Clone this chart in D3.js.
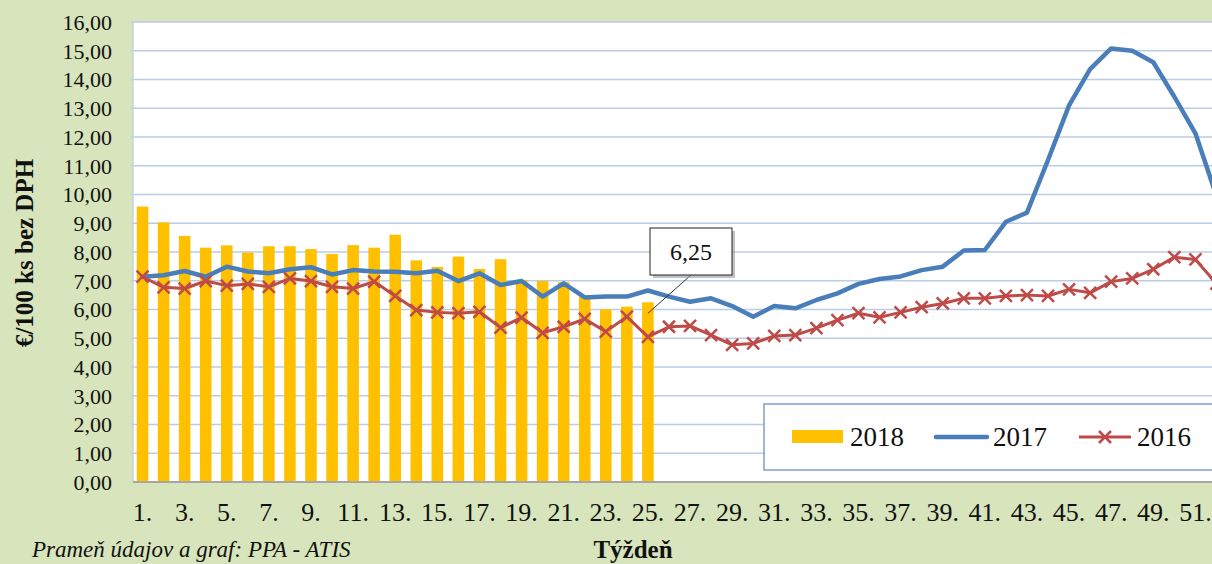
<!DOCTYPE html>
<html>
<head>
<meta charset="utf-8">
<script src="https://cdn.jsdelivr.net/npm/d3@7"></script>
<style>
  body { margin: 0; overflow: hidden; background: #d8e4bc; }
  svg { display: block; }
  svg text { font-family: "Liberation Serif", "Times New Roman", serif; }
</style>
</head>
<body>
<div id="chart"></div>
<script>
// weeks 1..52
const weeks = d3.range(1, 53);
const tickWeeks = weeks.filter(w => w % 2 === 1);
const yTicks = d3.range(0, 17);

const v2018 = [9.58, 9.03, 8.56, 8.15, 8.23, 7.98, 8.20, 8.20, 8.10, 7.93, 8.24, 8.15, 8.60,
  7.71, 7.48, 7.84, 7.41, 7.75, 7.03, 6.99, 6.95, 6.45, 6.01, 6.10, 6.25];

const v2017 = [7.14, 7.19, 7.34, 7.14, 7.49, 7.32, 7.26, 7.40, 7.47, 7.22, 7.37, 7.32, 7.31,
  7.26, 7.35, 6.99, 7.26, 6.85, 6.99, 6.45, 6.91, 6.42, 6.45, 6.45, 6.66, 6.45,
  6.27, 6.39, 6.12, 5.75, 6.12, 6.04, 6.33, 6.56, 6.89, 7.06, 7.15, 7.37, 7.49,
  8.05, 8.07, 9.05, 9.37, 11.2, 13.1, 14.36, 15.08, 15.0, 14.6, 13.4, 12.13, 9.95];

const v2016 = [7.14, 6.77, 6.73, 6.99, 6.83, 6.89, 6.79, 7.08, 6.99, 6.79, 6.73, 6.97, 6.47,
  5.98, 5.90, 5.87, 5.92, 5.37, 5.72, 5.19, 5.40, 5.67, 5.23, 5.75, 5.05, 5.40,
  5.43, 5.11, 4.77, 4.82, 5.08, 5.11, 5.35, 5.63, 5.87, 5.73, 5.90, 6.08, 6.21,
  6.39, 6.39, 6.47, 6.50, 6.47, 6.70, 6.58, 6.97, 7.08, 7.40, 7.82, 7.74, 6.9];

const seriesNames = ["2018", "2017", "2016"];
const calloutText = "6,25";

const width = 1212, height = 564;
const plot = { left: 133, right: 1227, top: 22, bottom: 482 };
const serif = '"Liberation Serif", "Times New Roman", serif';

const fmt = v => d3.format(".2f")(v).replace(".", ",");

const svg = d3.select("#chart").append("svg")
  .attr("width", width)
  .attr("height", height);

const x = d3.scaleBand()
  .domain(weeks)
  .range([plot.left - 1, plot.right])
  .paddingInner(0.45)
  .paddingOuter(0.225);

const y = d3.scaleLinear().domain([0, 16]).range([plot.bottom, plot.top]);
const cx = w => x(w) + x.bandwidth() / 2;

// plot background
svg.append("rect")
  .attr("x", plot.left).attr("y", plot.top)
  .attr("width", plot.right - plot.left).attr("height", plot.bottom - plot.top)
  .attr("fill", "#fff");

// grid
svg.append("g")
  .selectAll("line")
  .data(yTicks.filter(d => d > 0))
  .join("line")
  .attr("x1", plot.left - 2).attr("x2", plot.right)
  .attr("y1", d => y(d)).attr("y2", d => y(d))
  .attr("stroke", "#b9cde5")
  .attr("stroke-width", 1.5);

svg.append("line")
  .attr("x1", plot.left).attr("x2", plot.left)
  .attr("y1", plot.top).attr("y2", plot.bottom)
  .attr("stroke", "#c6d2e2").attr("stroke-width", 1.5);

// y axis labels
const yAxis = svg.append("g")
  .attr("transform", `translate(${plot.left - 21},0)`)
  .call(d3.axisLeft(y).tickValues(yTicks).tickFormat(fmt).tickSize(0).tickPadding(0));
yAxis.attr("font-family", null);
yAxis.select(".domain").remove();
yAxis.selectAll("text")
  .style("font-family", serif)
  .attr("font-size", 22)
  .attr("fill", "#111")
  .attr("dy", "0.34em");

// bars
svg.append("g")
  .selectAll("rect")
  .data(v2018)
  .join("rect")
  .attr("x", (d, i) => x(weeks[i]))
  .attr("y", d => y(d))
  .attr("width", x.bandwidth())
  .attr("height", d => y(0) - y(d))
  .attr("fill", "#ffc000");

// x axis
svg.append("line")
  .attr("x1", plot.left).attr("x2", plot.right)
  .attr("y1", plot.bottom).attr("y2", plot.bottom)
  .attr("stroke", "#a6a6a6").attr("stroke-width", 2);

const xAxis = svg.append("g")
  .attr("transform", `translate(0,${plot.bottom})`)
  .call(d3.axisBottom(x).tickValues(tickWeeks).tickFormat(d => d + ".").tickSize(0).tickPadding(0));
xAxis.attr("font-family", null);
xAxis.select(".domain").remove();
xAxis.selectAll("text")
  .style("font-family", serif)
  .attr("font-size", 26)
  .attr("fill", "#111")
  .attr("dy", null)
  .attr("y", 39);

// lines
const line = d3.line()
  .x((d, i) => cx(weeks[i]))
  .y(d => y(d));

svg.append("path")
  .datum(v2017)
  .attr("d", line)
  .attr("fill", "none")
  .attr("stroke", "#4a7ebb")
  .attr("stroke-width", 4.5)
  .attr("stroke-linejoin", "round")
  .attr("stroke-linecap", "round");

svg.append("path")
  .datum(v2016)
  .attr("d", line)
  .attr("fill", "none")
  .attr("stroke", "#be4b48")
  .attr("stroke-width", 3)
  .attr("stroke-linejoin", "round");

const cross = (sel, s) => sel.attr("d", `M${-s},${-s}L${s},${s}M${-s},${s}L${s},${-s}`);

svg.append("g")
  .selectAll("path")
  .data(v2016)
  .join("path")
  .attr("transform", (d, i) => `translate(${cx(weeks[i])},${y(d)})`)
  .call(cross, 6)
  .attr("stroke", "#be4b48")
  .attr("stroke-width", 2.5)
  .attr("fill", "none");

// callout for last 2018 value
const lastW = weeks[v2018.length - 1];
const box = { x: 650, y: 228, w: 82, h: 47 };
svg.append("line")
  .attr("x1", box.x + box.w / 2).attr("y1", box.y + box.h)
  .attr("x2", cx(lastW)).attr("y2", y(v2018[v2018.length - 1]) + 11)
  .attr("stroke", "#333").attr("stroke-width", 1);
svg.append("rect")
  .attr("x", box.x + 3).attr("y", box.y + 3)
  .attr("width", box.w).attr("height", box.h)
  .attr("fill", "#9a9a9a").attr("opacity", 0.6);
svg.append("rect")
  .attr("x", box.x).attr("y", box.y)
  .attr("width", box.w).attr("height", box.h)
  .attr("fill", "#fff").attr("stroke", "#222").attr("stroke-width", 1);
svg.append("text")
  .attr("x", box.x + box.w / 2).attr("y", box.y + 32)
  .attr("text-anchor", "middle")
  .attr("font-size", 24)
  .attr("fill", "#111")
  .text(calloutText);

// legend
const lg = svg.append("g");
lg.append("rect")
  .attr("x", 764).attr("y", 404)
  .attr("width", 470).attr("height", 66)
  .attr("fill", "#fff")
  .attr("stroke", "#7d9ccf").attr("stroke-width", 1.5);
lg.append("rect")
  .attr("x", 792).attr("y", 430).attr("width", 51).attr("height", 13)
  .attr("fill", "#ffc000");
lg.append("line")
  .attr("x1", 936).attr("x2", 987).attr("y1", 437).attr("y2", 437)
  .attr("stroke", "#4a7ebb").attr("stroke-width", 4.5).attr("stroke-linecap", "round");
lg.append("line")
  .attr("x1", 1079).attr("x2", 1131).attr("y1", 437).attr("y2", 437)
  .attr("stroke", "#be4b48").attr("stroke-width", 3);
lg.append("path")
  .attr("transform", "translate(1105,437)")
  .call(cross, 6)
  .attr("stroke", "#be4b48").attr("stroke-width", 2.5);
lg.selectAll("text")
  .data(seriesNames)
  .join("text")
  .attr("x", (d, i) => [850, 993, 1137][i])
  .attr("y", 446)
  .attr("font-size", 27)
  .attr("fill", "#111")
  .text(d => d);

// titles
svg.append("text")
  .attr("transform", "translate(33,253) rotate(-90)")
  .attr("text-anchor", "middle")
  .attr("font-weight", "bold")
  .attr("font-size", 25)
  .attr("fill", "#111")
  .text("€/100 ks bez DPH");

svg.append("text")
  .attr("x", 633).attr("y", 558)
  .attr("text-anchor", "middle")
  .attr("font-weight", "bold")
  .attr("font-size", 25)
  .attr("fill", "#111")
  .text("Týždeň");

svg.append("text")
  .attr("x", 32).attr("y", 557)
  .attr("font-style", "italic")
  .attr("font-size", 23)
  .attr("fill", "#111")
  .text("Prameň údajov a graf: PPA - ATIS");
</script>
</body>
</html>
